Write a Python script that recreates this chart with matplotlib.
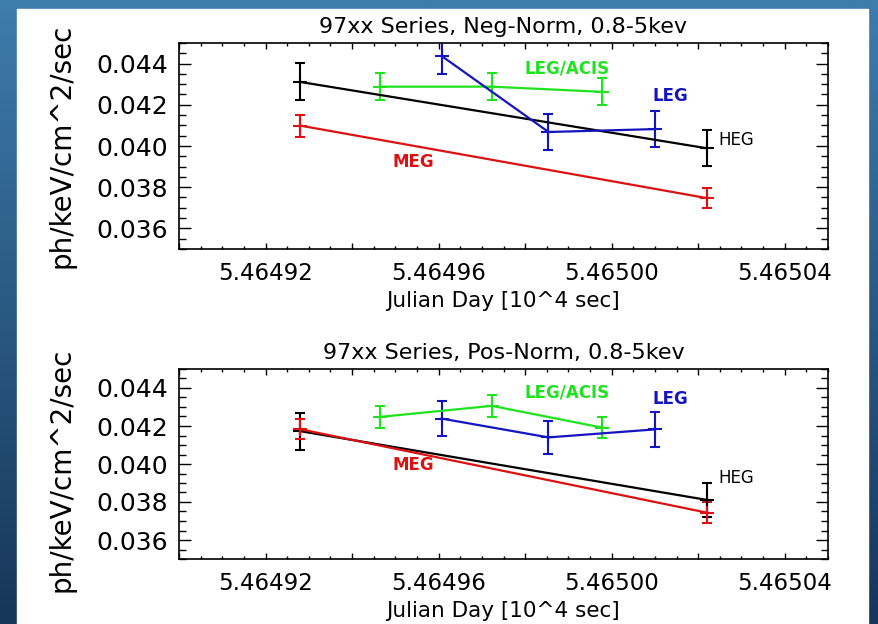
import numpy as np
import matplotlib
matplotlib.use("Agg")
import matplotlib.pyplot as plt
from matplotlib.ticker import MultipleLocator, FuncFormatter
from matplotlib.patches import Rectangle

# ---- data ----
x_heg = [5.464928, 5.465022]
x_meg = [5.464928, 5.465022]
x_acis = [5.4649465, 5.4649723, 5.4649977]
x_leg = [5.4649607, 5.4649854, 5.4650099]

heg_neg = [0.04311, 0.03989]
heg_neg_err = [0.00090, 0.00087]
meg_neg = [0.04099, 0.03747]
meg_neg_err = [0.00053, 0.00050]
acis_neg = [0.04288, 0.04288, 0.04263]
acis_neg_err = [0.00065, 0.00065, 0.00065]
leg_neg = [0.04437, 0.04068, 0.04082]
leg_neg_err = [0.00086, 0.00086, 0.00087]

heg_pos = [0.04173, 0.03811]
heg_pos_err = [0.00098, 0.00091]
meg_pos = [0.04183, 0.03744]
meg_pos_err = [0.00054, 0.00055]
acis_pos = [0.04248, 0.04306, 0.04192]
acis_pos_err = [0.00059, 0.00058, 0.00056]
leg_pos = [0.04239, 0.04140, 0.04182]
leg_pos_err = [0.00090, 0.00087, 0.00091]

titles = ["97xx Series, Neg-Norm, 0.8-5kev", "97xx Series, Pos-Norm, 0.8-5kev"]
xlabel = "Julian Day [10^4 sec]"
ylabel = "ph/keV/cm^2/sec"
series_names = ["HEG", "MEG", "LEG/ACIS", "LEG"]

# label positions (data coords) per panel
lab_neg = {"HEG": (5.4650246, 0.04028), "MEG": (5.4649542, 0.03923),
           "LEG/ACIS": (5.4649896, 0.04378), "LEG": (5.4650136, 0.04243)}
lab_pos = {"HEG": (5.4650246, 0.03928), "MEG": (5.4649542, 0.03994),
           "LEG/ACIS": (5.4649896, 0.04374), "LEG": (5.4650136, 0.04344)}

colors = {"HEG": "#000000", "MEG": "#dd1111", "LEG/ACIS": "#1ee31e", "LEG": "#1414c0"}

W, H = 879, 624
fig = plt.figure(figsize=(W / 100, H / 100), dpi=100)

# background gradient
bg = fig.add_axes([0, 0, 1, 1], zorder=-10)
grad = np.linspace(0, 1, 256)[:, None]
top_c = np.array([62, 124, 172]) / 255.0
bot_c = np.array([22, 54, 88]) / 255.0
img = top_c[None, None, :] * (1 - grad[:, :, None]) + bot_c[None, None, :] * grad[:, :, None]
img = np.repeat(img, 4, axis=1)
bg.imshow(img, aspect="auto", extent=[0, 1, 0, 1], origin="upper")
bg.add_patch(Rectangle((17 / W, 0), (868 - 17) / W, (H - 9) / H, color="white",
                       transform=bg.transAxes))
bg.set_xlim(0, 1)
bg.set_ylim(0, 1)
bg.axis("off")

ax_specs = [
    (179 / W, 1 - 249 / H, (828 - 179) / W, (249 - 43) / H),
    (179 / W, 1 - 559 / H, (828 - 179) / W, (559 - 369) / H),
]
ylabel_y = [0.5, 0.47]

panels = [
    (dict(HEG=(x_heg, heg_neg, heg_neg_err), MEG=(x_meg, meg_neg, meg_neg_err),
          **{"LEG/ACIS": (x_acis, acis_neg, acis_neg_err)}, LEG=(x_leg, leg_neg, leg_neg_err)), lab_neg),
    (dict(HEG=(x_heg, heg_pos, heg_pos_err), MEG=(x_meg, meg_pos, meg_pos_err),
          **{"LEG/ACIS": (x_acis, acis_pos, acis_pos_err)}, LEG=(x_leg, leg_pos, leg_pos_err)), lab_pos),
]

xfmt = FuncFormatter(lambda v, p: ("%.5f" % v) if abs(round(v / 0.00004) * 0.00004 - v) < 1e-9 else "")

for i, (spec, (data, labs)) in enumerate(zip(ax_specs, panels)):
    ax = fig.add_axes(spec)
    for name in series_names:
        xs, ys, es = data[name]
        c = colors[name]
        ax.errorbar(xs, ys, yerr=es, color=c, lw=1.6, elinewidth=1.5, capsize=3.8,
                    capthick=1.5, marker="+", markersize=10, mew=1.5)
        tx, ty = labs[name]
        if name == "HEG":
            ax.text(tx, ty, name, color=c, fontsize=12, ha="left", va="center")
        else:
            ax.text(tx, ty, name, color=c, fontsize=12, fontweight="bold",
                    ha="center", va="center")
    ax.set_xlim(5.4649, 5.46505)
    ax.set_ylim(0.035, 0.045)
    ax.xaxis.set_major_locator(MultipleLocator(0.00002))
    ax.xaxis.set_minor_locator(MultipleLocator(0.000005))
    ax.xaxis.set_major_formatter(xfmt)
    ax.yaxis.set_major_locator(MultipleLocator(0.002))
    ax.yaxis.set_minor_locator(MultipleLocator(0.0005))
    ax.yaxis.set_major_formatter(FuncFormatter(lambda v, p: "%.3f" % v))
    ax.tick_params(axis="both", which="both", direction="in", top=True, right=True)
    ax.tick_params(axis="x", which="major", length=4, width=1, labelsize=16.5, pad=9)
    ax.tick_params(axis="x", which="minor", length=2.5, width=1)
    ax.tick_params(axis="y", which="major", length=8.5, width=1, labelsize=18, pad=8)
    ax.tick_params(axis="y", which="minor", length=5, width=1)
    for s in ax.spines.values():
        s.set_linewidth(1.2)
    ax.set_title(titles[i], fontsize=16, pad=7)
    ax.set_xlabel(xlabel, fontsize=15.5, labelpad=5)
    ax.set_ylabel(ylabel, fontsize=20)
    ax.yaxis.set_label_coords((76 - 179) / 649, ylabel_y[i])

fig.savefig("out.png", dpi=100)
